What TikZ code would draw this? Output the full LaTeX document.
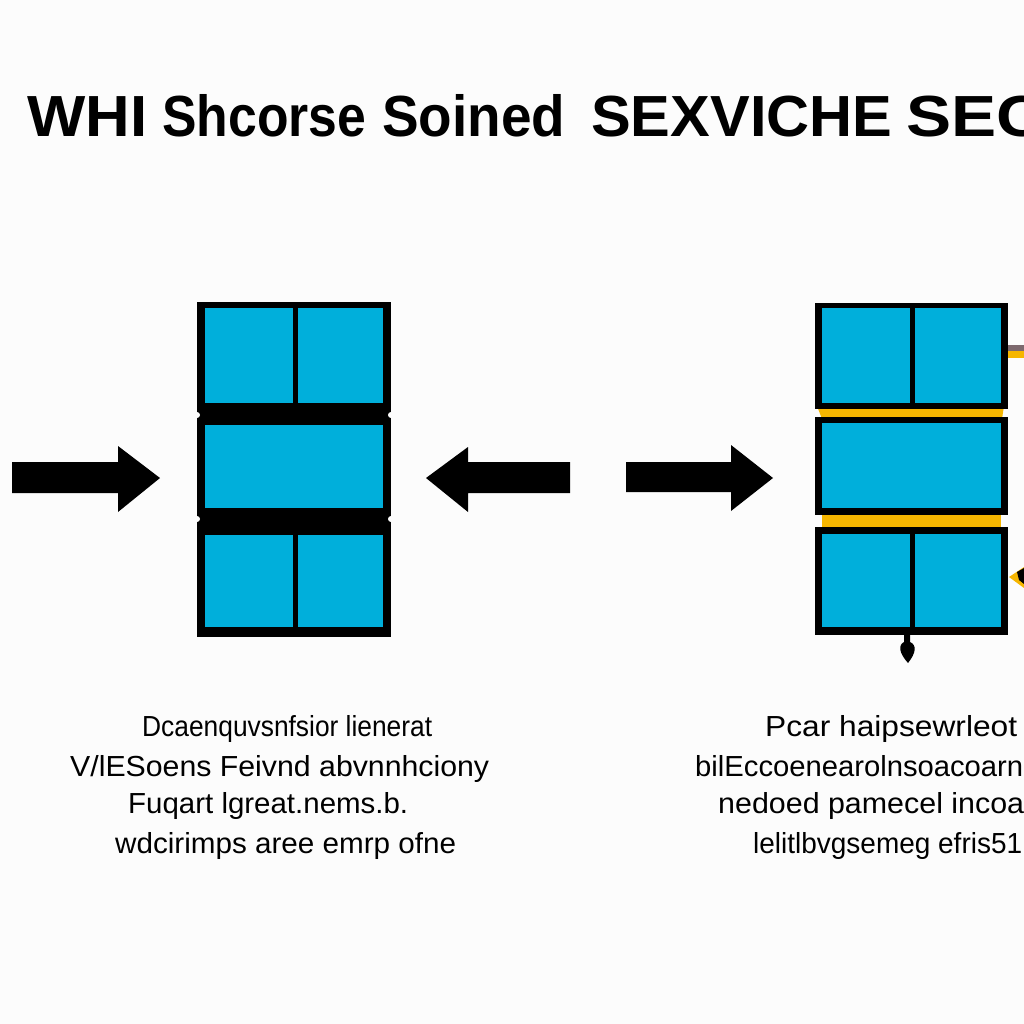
\documentclass[tikz,border=0pt]{standalone}
\usepackage{fontspec}
\setmainfont{Liberation Sans}
\usepackage{graphicx}
\definecolor{cellblue}{RGB}{0,175,219}
\definecolor{bandyellow}{RGB}{246,182,0}
\definecolor{bgwhite}{RGB}{252,252,252}
\definecolor{stubgrey}{RGB}{125,105,110}
\newcommand{\fitw}[2]{\resizebox{#1}{\height}{#2}}
\begin{document}
\begin{tikzpicture}[x=1pt,y=-1pt,
  cell/.style={fill=cellblue},
  frame/.style={fill=black},
  band/.style={fill=bandyellow},
  blockarrow/.style={fill=black},
  ttl/.style={anchor=base west,inner sep=0pt,font=\fontsize{58}{58}\selectfont\bfseries},
  body/.style={anchor=base west,inner sep=0pt,font=\fontsize{29}{29}\selectfont}]
\useasboundingbox (0,0) rectangle (1024,1024);
\fill[bgwhite] (0,0) rectangle (1024,1024);

% title
\begin{scope}
\clip (0,0) rectangle (1024,1024);
\node[ttl] (t1) at (27,137) {\fitw{120pt}{WHI}};
\node[ttl] (t2) at (162,137) {\fitw{204pt}{Shcorse}};
\node[ttl] (t3) at (382,137) {\fitw{183pt}{Soined}};
\node[ttl] (t4) at (591,137) {\fitw{301pt}{SEXVICHE}};
\node[ttl] (t5) at (906,137) {\fitw{139pt}{SEC}};
\end{scope}

% left block
\fill[frame] (197,302) rectangle (391,637);
\fill[bgwhite] (197,415) circle (3);
\fill[bgwhite] (391,415) circle (3);
\fill[bgwhite] (197,519) circle (3);
\fill[bgwhite] (391,519) circle (3);
\fill[cell] (205,308) rectangle (293,403);
\fill[cell] (298,308) rectangle (383,403);
\fill[cell] (205,425) rectangle (383,508);
\fill[cell] (205,535) rectangle (293,627);
\fill[cell] (298,535) rectangle (383,627);

% right block
\fill[band] (817,406) -- (1004,406) -- (1002,419) -- (822,419) -- cycle;
\fill[band] (822,512) rectangle (1001,529);
\fill[frame] (815,303) rectangle (1008,409);
\fill[frame] (815,417) rectangle (1008,515);
\fill[frame] (815,527) rectangle (1008,635);
\fill[cell] (822,308) rectangle (910,403);
\fill[cell] (915,308) rectangle (1001,403);
\fill[cell] (822,423) rectangle (1001,508);
\fill[cell] (822,534) rectangle (910,627);
\fill[cell] (915,534) rectangle (1001,627);

% small marks at the right block
\fill[stubgrey] (1008,345) rectangle (1024,351);
\fill[band] (1008,351) rectangle (1024,358);
\fill[band] (1009,577) -- (1024,567) -- (1024,588) -- cycle;
\fill[frame] (1017,572) -- (1024,568) -- (1024,584) -- (1019,580) -- cycle;
\fill[frame] (904,634) -- (910,634) -- (910,642)
  .. controls (917,645) and (916,653) .. (908,663)
  .. controls (899,653) and (898,645) .. (904,642) -- cycle;

% block arrows
\fill[blockarrow] (12,462) -- (118,462) -- (118,446) -- (160,478) -- (118,512) -- (118,493) -- (12,493) -- cycle;
\fill[blockarrow] (570,462) -- (468,462) -- (468,447) -- (426,478) -- (468,512) -- (468,493) -- (570,493) -- cycle;
\fill[blockarrow] (626,462) -- (731,462) -- (731,445) -- (773,478) -- (731,511) -- (731,492) -- (626,492) -- cycle;

% left text
\node[body] (l1) at (142,736) {\fitw{290pt}{Dcaenquvsnfsior lienerat}};
\node[body] (l2) at (70,776) {\fitw{419pt}{V/lESoens Feivnd abvnnhciony}};
\node[body] (l3) at (128,813) {\fitw{280pt}{Fuqart lgreat.nems.b.}};
\node[body] (l4) at (115,853) {\fitw{341pt}{wdcirimps aree emrp ofne}};

% right text
\node[body] (r1) at (765,736) {\fitw{252pt}{Pcar haipsewrleot}};
\node[body] (r2) at (695,776) {\fitw{328pt}{bilEccoenearolnsoacoarn}};
\node[body] (r3) at (718,813) {\fitw{306pt}{nedoed pamecel incoa}};
\node[body] (r4) at (753,853) {\fitw{269pt}{lelitlbvgsemeg efris51}};
\end{tikzpicture}
\end{document}
